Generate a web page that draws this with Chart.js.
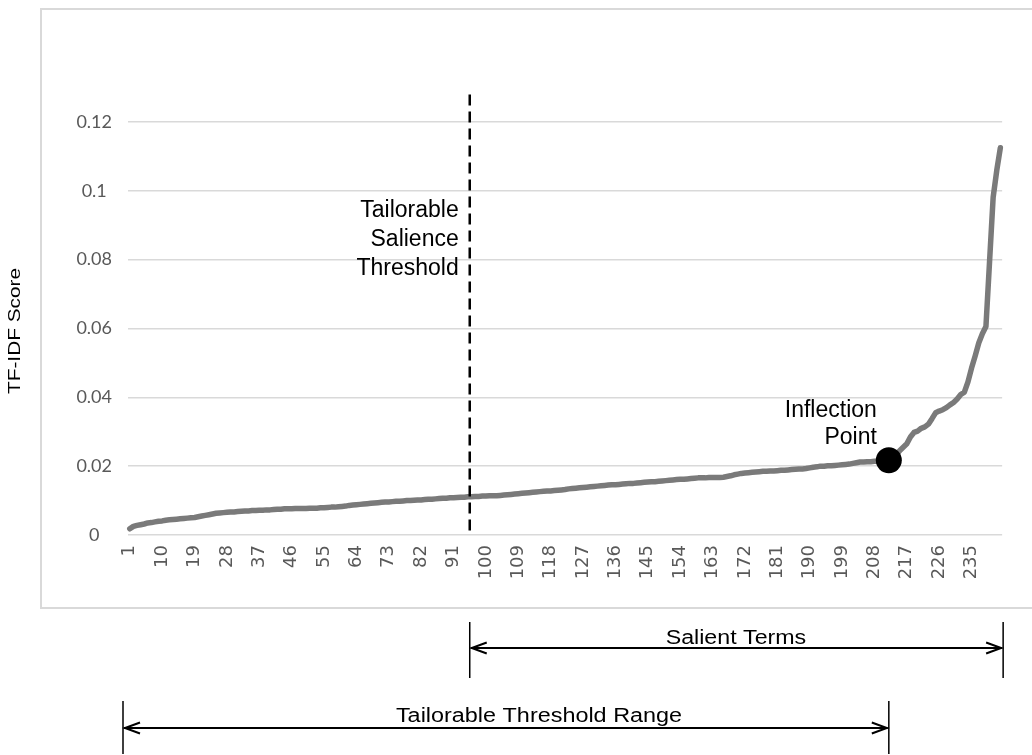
<!DOCTYPE html>
<html>
<head>
<meta charset="utf-8">
<script src="https://cdn.jsdelivr.net/npm/chart.js@4.4.1/dist/chart.umd.min.js"></script>
<style>
  html, body { margin: 0; padding: 0; background: #ffffff; }
  #wrap { width: 1032px; height: 755px; }
</style>
</head>
<body>
<div id="wrap"><canvas id="tfidfChart" width="1032" height="755"></canvas></div>
<script>
// --- data ---
const termRanks = Array.from({ length: 243 }, (_, i) => String(i + 1));

const tfidfScores = [
  0.0018, 0.0025, 0.0028, 0.0030, 0.0032, 0.0035, 0.0036, 0.0038, 0.0040, 0.0041,
  0.0043, 0.0044, 0.0045, 0.0046, 0.0047, 0.0048, 0.0049, 0.0050, 0.0051, 0.0053,
  0.0055, 0.0057, 0.0059, 0.0061, 0.0063, 0.0064, 0.0065, 0.0066, 0.0067, 0.0067,
  0.0068, 0.0069, 0.0070, 0.0070, 0.0071, 0.0071, 0.0072, 0.0072, 0.0073, 0.0073,
  0.0074, 0.0075, 0.0075, 0.0076, 0.0076, 0.0076, 0.0077, 0.0077, 0.0077, 0.0077,
  0.0078, 0.0078, 0.0078, 0.0079, 0.0079, 0.0080, 0.0081, 0.0081, 0.0082, 0.0083,
  0.0084, 0.0086, 0.0087, 0.0088, 0.0089, 0.0090, 0.0091, 0.0092, 0.0093, 0.0094,
  0.0095, 0.0096, 0.0096, 0.0097, 0.0098, 0.0098, 0.0099, 0.0100, 0.0100, 0.0101,
  0.0102, 0.0102, 0.0103, 0.0104, 0.0104, 0.0105, 0.0106, 0.0107, 0.0107, 0.0108,
  0.0108, 0.0109, 0.0110, 0.0110, 0.0111, 0.0111, 0.0112, 0.0112, 0.0113, 0.0113,
  0.0114, 0.0114, 0.0114, 0.0115, 0.0116, 0.0117, 0.0118, 0.0119, 0.0120, 0.0121,
  0.0122, 0.0123, 0.0124, 0.0125, 0.0126, 0.0127, 0.0128, 0.0128, 0.0129, 0.0130,
  0.0131, 0.0132, 0.0134, 0.0135, 0.0136, 0.0137, 0.0138, 0.0139, 0.0140, 0.0141,
  0.0142, 0.0143, 0.0144, 0.0145, 0.0146, 0.0146, 0.0147, 0.0148, 0.0149, 0.0150,
  0.0150, 0.0151, 0.0152, 0.0153, 0.0154, 0.0155, 0.0155, 0.0156, 0.0157, 0.0158,
  0.0159, 0.0160, 0.0161, 0.0162, 0.0162, 0.0163, 0.0164, 0.0165, 0.0166, 0.0166,
  0.0166, 0.0167, 0.0167, 0.0167, 0.0167, 0.0168, 0.0170, 0.0172, 0.0175, 0.0177,
  0.0179, 0.0180, 0.0181, 0.0182, 0.0183, 0.0184, 0.0185, 0.0185, 0.0186, 0.0186,
  0.0187, 0.0188, 0.0188, 0.0189, 0.0190, 0.0191, 0.0192, 0.0192, 0.0193, 0.0195,
  0.0197, 0.0198, 0.0200, 0.0200, 0.0201, 0.0201, 0.0202, 0.0203, 0.0204, 0.0205,
  0.0206, 0.0208, 0.0210, 0.0212, 0.0212, 0.0213, 0.0213, 0.0214, 0.0214, 0.0215,
  0.0215, 0.0217, 0.0220, 0.0232, 0.0245, 0.0255, 0.0265, 0.0285, 0.0298, 0.0302,
  0.0310, 0.0314, 0.0322, 0.0338, 0.0355, 0.0360, 0.0364, 0.0370, 0.0378, 0.0385,
  0.0395, 0.0408, 0.0415, 0.0445, 0.0485, 0.0520, 0.0558, 0.0585, 0.0606, 0.0794,
  0.0981, 0.1059, 0.1125
];

const xTickLabels = ['1', '10', '19', '28', '37', '46', '55', '64', '73', '82', '91', '100', '109',
  '118', '127', '136', '145', '154', '163', '172', '181', '190', '199', '208', '217', '226', '235'];

const thresholdIndex = 94.5;     // between term 95 and 96
const thresholdTopValue = 0.128;
const inflectionIndex = 211;     // term 212

const inflectionData = tfidfScores.map((v, i) => (i === inflectionIndex ? v : null));

// --- helpers ---
function pixelForIndex(scale, idx) {
  const lo = Math.floor(idx), hi = Math.ceil(idx);
  const a = scale.getPixelForValue(lo), b = scale.getPixelForValue(hi);
  return a + (b - a) * (idx - lo);
}

function drawBracket(ctx, x1, x2, yTop, yBot, yArrow) {
  ctx.strokeStyle = '#000000';
  ctx.lineWidth = 1.5;
  ctx.beginPath();
  ctx.moveTo(x1, yTop); ctx.lineTo(x1, yBot);
  ctx.moveTo(x2, yTop); ctx.lineTo(x2, yBot);
  ctx.stroke();
  ctx.lineWidth = 2;
  ctx.beginPath();
  ctx.moveTo(x1 + 1, yArrow); ctx.lineTo(x2 - 1, yArrow);
  ctx.moveTo(x1 + 17, yArrow - 5.5); ctx.lineTo(x1 + 2, yArrow); ctx.lineTo(x1 + 17, yArrow + 5.5);
  ctx.moveTo(x2 - 17, yArrow - 5.5); ctx.lineTo(x2 - 2, yArrow); ctx.lineTo(x2 - 17, yArrow + 5.5);
  ctx.stroke();
}

function stretchedText(ctx, text, cx, baseline, sx) {
  ctx.save();
  ctx.translate(cx, baseline);
  ctx.scale(sx, 1);
  ctx.textAlign = 'center';
  ctx.textBaseline = 'alphabetic';
  ctx.fillText(text, 0, 0);
  ctx.restore();
}

const annotationsPlugin = {
  id: 'tfidfAnnotations',
  beforeDraw(chart) {
    const ctx = chart.ctx;
    ctx.save();
    ctx.fillStyle = '#ffffff';
    ctx.fillRect(0, 0, chart.width, chart.height);
    // frame of the chart
    ctx.strokeStyle = '#d9d9d9';
    ctx.lineWidth = 2;
    ctx.strokeRect(41, 9, 1010, 599);
    // y axis title, outside the frame
    ctx.translate(16, 331);
    ctx.rotate(-Math.PI / 2);
    ctx.scale(1.3, 1);
    ctx.fillStyle = '#000000';
    ctx.font = '16px "Liberation Sans", Arial, sans-serif';
    ctx.textAlign = 'center';
    ctx.textBaseline = 'middle';
    ctx.fillText('TF-IDF Score', 0, 0);
    ctx.restore();
  },
  afterDatasetsDraw(chart) {
    const ctx = chart.ctx;
    const xs = chart.scales.x, ys = chart.scales.y;
    const xt = pixelForIndex(xs, thresholdIndex);
    ctx.save();
    // salience threshold
    ctx.strokeStyle = '#000000';
    ctx.lineWidth = 2.5;
    ctx.setLineDash([11, 6]);
    ctx.beginPath();
    ctx.moveTo(xt, ys.getPixelForValue(thresholdTopValue));
    ctx.lineTo(xt, ys.getPixelForValue(0));
    ctx.stroke();
    ctx.setLineDash([]);

    ctx.fillStyle = '#000000';
    ctx.font = '23px "Liberation Sans", Arial, sans-serif';
    ctx.textAlign = 'right';
    ctx.textBaseline = 'alphabetic';
    ctx.fillText('Tailorable', xt - 11, 217);
    ctx.fillText('Salience', xt - 11, 246);
    ctx.fillText('Threshold', xt - 11, 275);

    const xi = xs.getPixelForValue(inflectionIndex);
    ctx.fillText('Inflection', xi - 12, 417);
    ctx.fillText('Point', xi - 12, 444);
    ctx.restore();
  },
  afterDraw(chart) {
    const ctx = chart.ctx;
    const xs = chart.scales.x;
    const area = chart.chartArea;
    const xt = pixelForIndex(xs, thresholdIndex);
    const xi = xs.getPixelForValue(inflectionIndex);
    ctx.save();
    drawBracket(ctx, xt, area.right + 1, 622, 678, 648);
    drawBracket(ctx, area.left - 5, xi, 701, 754, 728);
    ctx.fillStyle = '#000000';
    ctx.font = '20px "Liberation Sans", Arial, sans-serif';
    stretchedText(ctx, 'Salient Terms', (xt + area.right) / 2, 644, 1.16);
    stretchedText(ctx, 'Tailorable Threshold Range', 539, 722, 1.17);
    ctx.restore();
  }
};

// --- chart ---
const ctxScores = document.getElementById('tfidfChart').getContext('2d');
const scoresChart = new Chart(ctxScores, {
  type: 'line',
  data: {
    labels: termRanks,
    datasets: [
      {
        label: 'Inflection Point',
        data: inflectionData,
        order: 0,
        showLine: false,
        pointRadius: 13,
        pointBackgroundColor: '#000000',
        pointBorderColor: '#000000',
        pointBorderWidth: 0
      },
      {
        label: 'TF-IDF Score',
        data: tfidfScores,
        order: 1,
        borderColor: '#7a7a7a',
        borderWidth: 5.5,
        pointRadius: 0,
        tension: 0,
        fill: false,
        borderCapStyle: 'round',
        borderJoinStyle: 'round'
      }
    ]
  },
  plugins: [annotationsPlugin],
  options: {
    responsive: false,
    animation: false,
    events: [],
    layout: {
      padding: { left: 41, right: 29, top: 122, bottom: 150 }
    },
    scales: {
      x: {
        type: 'category',
        offset: true,
        grid: { display: false, drawTicks: false },
        border: { display: false },
        afterFit: (scale) => { scale.height = 70; },
        ticks: {
          autoSkip: false,
          minRotation: 90,
          maxRotation: 90,
          padding: 10,
          color: '#595959',
          font: { family: '"DejaVu Sans", Lato, sans-serif', size: 18 },
          callback: function (value) {
            const lab = this.getLabelForValue(value);
            return xTickLabels.includes(lab) ? lab : '';
          }
        }
      },
      y: {
        min: 0,
        max: 0.12,
        grid: { color: '#d9d9d9', lineWidth: 1.5, drawTicks: false },
        border: { display: false },
        afterFit: (scale) => { scale.width = 87; },
        ticks: {
          stepSize: 0.02,
          padding: 16,
          crossAlign: 'center',
          color: '#595959',
          font: { family: 'Lato, "Open Sans", sans-serif', size: 18 },
          callback: (v) => String(+v.toFixed(2))
        }
      }
    },
    plugins: {
      legend: { display: false },
      tooltip: { enabled: false },
      title: { display: false }
    }
  }
});
</script>
</body>
</html>
